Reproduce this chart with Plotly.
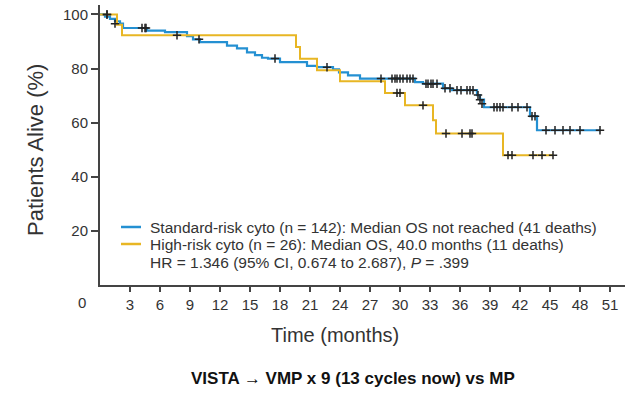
import plotly.graph_objects as go

# ---- data ----
std_t = [0, 0.5, 1.0, 1.5, 2.0, 2.3, 4.7, 6.5, 8.7, 9.3, 10.0, 12.7, 13.7, 14.7, 15.5, 16.2, 16.8, 18.0, 20.7, 21.7, 23.3, 23.9, 24.8, 26.0, 31.5, 32.3, 34.3, 35.2, 37.7, 38.0, 38.4, 43.0, 43.7, 50.0]
std_s = [100, 99.2, 98.4, 97.5, 96.6, 95.0, 94.0, 93.5, 92.0, 90.8, 89.8, 88.5, 87.5, 86.0, 85.0, 84.0, 83.7, 82.4, 81.0, 80.5, 79.7, 78.6, 77.5, 76.3, 75.0, 74.4, 72.7, 72.0, 70.2, 68.5, 65.7, 62.4, 57.2, 57.2]
std_cens_t = [0.7, 1.5, 4.2, 4.5, 4.6, 9.9, 17.5, 22.7, 28.1, 29.2, 29.5, 29.7, 30.0, 30.3, 30.7, 31.0, 31.3, 32.6, 32.8, 33.1, 33.3, 33.7, 34.5, 35.0, 35.7, 36.1, 36.7, 37.0, 37.3, 37.8, 38.0, 38.2, 39.4, 39.7, 40.0, 40.3, 41.2, 41.8, 42.7, 43.2, 43.5, 44.6, 45.5, 46.3, 47.0, 48.0, 50.0]
std_cens_s = [100, 96.6, 95.0, 95.0, 95.0, 90.8, 83.7, 80.5, 76.3, 76.3, 76.3, 76.3, 76.3, 76.3, 76.3, 76.3, 76.3, 74.4, 74.4, 74.4, 74.4, 74.4, 72.7, 72.7, 72.0, 72.0, 72.0, 72.0, 72.0, 70.2, 68.5, 67.0, 65.7, 65.7, 65.7, 65.7, 65.7, 65.7, 65.7, 62.4, 62.4, 57.2, 57.2, 57.2, 57.2, 57.2, 57.2]

high_t = [0, 1.7, 2.2, 19.6, 20.0, 21.7, 24.0, 28.5, 30.5, 33.3, 33.6, 40.3, 45.3]
high_s = [100, 96.2, 92.3, 88.0, 83.6, 79.4, 75.3, 71.0, 66.4, 60.9, 56.0, 48.0, 48.0]
high_cens_t = [0.7, 7.7, 29.7, 30.0, 32.3, 34.6, 36.2, 37.0, 37.2, 40.8, 41.2, 43.3, 44.2, 45.3]
high_cens_s = [100, 92.3, 71.0, 71.0, 66.4, 56.0, 56.0, 56.0, 56.0, 48.0, 48.0, 48.0, 48.0, 48.0]

x_ticks = list(range(3, 52, 3))
y_ticks = [20, 40, 60, 80, 100]

legend_lines = [
    "Standard-risk cyto (n = 142): Median OS not reached (41 deaths)",
    "High-risk cyto (n = 26): Median OS, 40.0 months (11 deaths)",
    "HR = 1.346 (95% CI, 0.674 to 2.687), <i>P</i> = .399",
]

BLUE = "#2490d2"
YELLOW = "#e8b624"
TXT = "#333333"
FONT = "Liberation Sans, Arial, sans-serif"

fig = go.Figure()
fig.add_trace(go.Scatter(x=std_t, y=std_s, mode="lines", line=dict(color=BLUE, width=2.2, shape="hv"), showlegend=False))
fig.add_trace(go.Scatter(x=high_t, y=high_s, mode="lines", line=dict(color=YELLOW, width=2, shape="hv"), showlegend=False))
fig.add_trace(go.Scatter(x=std_cens_t, y=std_cens_s, mode="markers",
                         marker=dict(symbol="cross-thin", size=6, line=dict(color="#222222", width=1.5)), showlegend=False))
fig.add_trace(go.Scatter(x=high_cens_t, y=high_cens_s, mode="markers",
                         marker=dict(symbol="cross-thin", size=6, line=dict(color="#222222", width=1.5)), showlegend=False))

fig.update_layout(
    width=640, height=393,
    margin=dict(l=100, r=15, t=5, b=108),
    paper_bgcolor="white", plot_bgcolor="white",
    font=dict(family=FONT, color=TXT),
    xaxis=dict(range=[0, 52.5], tickvals=x_ticks, ticktext=[str(v) for v in x_ticks],
               showgrid=False, zeroline=False, showline=True, linecolor="#444444", linewidth=2,
               ticks="outside", ticklen=5, tickwidth=1.5, tickcolor="#444444",
               tickfont=dict(size=15, color=TXT, family=FONT)),
    yaxis=dict(range=[0, 103.5], tickvals=y_ticks, ticktext=[str(v) for v in y_ticks],
               showgrid=False, zeroline=False, showline=True, linecolor="#444444", linewidth=2,
               ticks="outside", ticklen=7, tickwidth=1.5, tickcolor="#444444",
               tickfont=dict(size=15, color=TXT, family=FONT)),
)


def px(xp, yp):
    # pixel position of the page -> paper coordinates of the plot area
    return (xp - 100) / 525.0, (285 - yp) / 280.0


anns = []


def add_text(text, xp, yp, size, color=TXT, xanchor="center", angle=0):
    x0, y0 = px(xp, yp)
    anns.append(dict(text=text, x=x0, y=y0, xref="paper", yref="paper", showarrow=False,
                     xanchor=xanchor, yanchor="middle", textangle=angle,
                     font=dict(size=size, color=color, family=FONT)))


add_text("0", 82, 302, 15)
add_text("Time (months)", 335, 335, 20)
add_text("Patients Alive (%)", 36, 150, 22, angle=-90)
add_text("<b>VISTA → VMP x 9 (13 cycles now) vs MP</b>", 353, 378, 17, color="#111111")
for line_txt, yp in zip(legend_lines, [227, 244, 262]):
    add_text(line_txt, 148, yp, 15.5, xanchor="left")

shapes = []
for col, yp in [(BLUE, 227), (YELLOW, 244)]:
    xa, ya = px(121, yp)
    xb, _ = px(141, yp)
    shapes.append(dict(type="line", xref="paper", yref="paper", x0=xa, x1=xb, y0=ya, y1=ya,
                       line=dict(color=col, width=2.5)))

fig.update_layout(annotations=anns, shapes=shapes)
fig.write_html("out.html", config={"displayModeBar": False},
               post_script="document.body.style.margin='0';document.body.style.padding='0';")
